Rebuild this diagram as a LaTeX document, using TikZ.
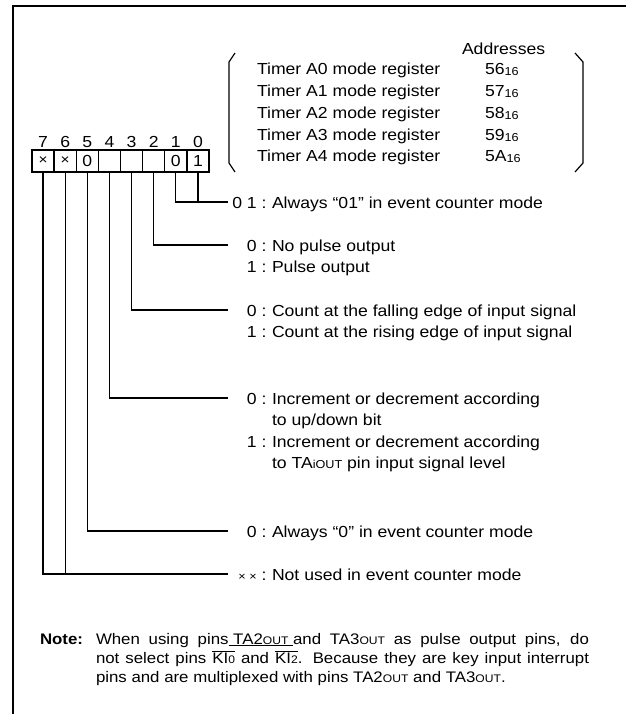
\documentclass[tikz,border=0pt]{standalone}
\usepackage{fontspec}
\setmainfont[FakeStretch=1.1]{Liberation Sans}
\newcommand\fsz{\fontsize{16}{16}\selectfont}
\newcommand\notef{\fontsize{15.3}{15.3}\selectfont}
\newcommand\smf{\fontsize{11.5}{11.5}\selectfont}
\newcommand\nsmf{\fontsize{11}{11}\selectfont}
\newcommand\hexsub{\raisebox{-1pt}{\smf 16}}
\newcommand\outsc{{\nsmf OUT}}
\newcommand\kibar[1]{$\overline{\hbox{KI{\nsmf #1}}}$}
\begin{document}
\begin{tikzpicture}[x=1pt,y=-1pt,
  every node/.style={inner sep=0pt, outer sep=0pt, font=\fsz},
  cell/.style={draw, line width=1.3pt, minimum width=22.125pt, minimum height=22pt},
  lead/.style={line width=1.3pt},
  txt/.style={anchor=base west},
  pre/.style={anchor=base east},
  notetxt/.style={anchor=base west, font=\notef},
  bitno/.style={anchor=base}]
\useasboundingbox (0,0) rectangle (626,714);
% frame
\draw[line width=2.4pt] (13,714) -- (13,6) -- (626,6);
% register cells
\node[cell] (b7) at (43.06,161) {\fontsize{14}{14}\selectfont ×};
\node[cell] (b6) at (65.19,161) {\fontsize{14}{14}\selectfont ×};
\node[cell] (b5) at (87.31,161) {0};
\node[cell] (b4) at (109.44,161) {};
\node[cell] (b3) at (131.56,161) {};
\node[cell] (b2) at (153.69,161) {};
\node[cell] (b1) at (175.81,161) {0};
\node[cell] (b0) at (197.94,161) {1};
% bit numbers
\node[bitno] (n7) at (43.06,147.5) {7};
\node[bitno] (n6) at (65.19,147.5) {6};
\node[bitno] (n5) at (87.31,147.5) {5};
\node[bitno] (n4) at (109.44,147.5) {4};
\node[bitno] (n3) at (131.56,147.5) {3};
\node[bitno] (n2) at (153.69,147.5) {2};
\node[bitno] (n1) at (175.81,147.5) {1};
\node[bitno] (n0) at (197.94,147.5) {0};
% register list
\node[txt] (addr) at (462,55) {Addresses};
\node[txt] (tA0) at (257,75) {Timer A0 mode register};
\node[txt] (tA1) at (257,96.75) {Timer A1 mode register};
\node[txt] (tA2) at (257,118.5) {Timer A2 mode register};
\node[txt] (tA3) at (257,140.25) {Timer A3 mode register};
\node[txt] (tA4) at (257,162) {Timer A4 mode register};
\node[txt] (a0) at (485,75) {56\hexsub};
\node[txt] (a1) at (485,96.75) {57\hexsub};
\node[txt] (a2) at (485,118.5) {58\hexsub};
\node[txt] (a3) at (485,140.25) {59\hexsub};
\node[txt] (a4) at (485,162) {5A\hexsub};
\draw[line width=1.2pt] (235,53) -- (229,62) -- (229,163) -- (235,172);
\draw[line width=1.2pt] (575,53) -- (583,62) -- (583,163) -- (575,172);
% leader end points
\coordinate (e1) at (228,202);
\coordinate (e2) at (228,245);
\coordinate (e3) at (228,310);
\coordinate (e4) at (228,398);
\coordinate (e5) at (228,531);
\coordinate (e6) at (228,574);
\draw[lead] (b1.south) |- (e1);
\draw[lead] (b0.south) -- (b0.south |- e1);
\draw[lead] (b2.south) |- (e2);
\draw[lead] (b3.south) |- (e3);
\draw[lead] (b4.south) |- (e4);
\draw[lead] (b5.south) |- (e5);
\draw[lead] (b7.south) |- (e6);
\draw[lead] (b6.south) -- (b6.south |- e6);
% descriptions
\node[pre] (p1) at (266.5,208) {0 1 :};
\node[txt] (t1) at (272,208) {Always “01” in event counter mode};
\node[pre] (p2a) at (266.5,251) {0 :};
\node[txt] (t2a) at (272,251) {No pulse output};
\node[pre] (p2b) at (266.5,272.5) {1 :};
\node[txt] (t2b) at (272,272.5) {Pulse output};
\node[pre] (p3a) at (266.5,316) {0 :};
\node[txt] (t3a) at (272,316) {Count at the falling edge of input signal};
\node[pre] (p3b) at (266.5,337.5) {1 :};
\node[txt] (t3b) at (272,337.5) {Count at the rising edge of input signal};
\node[pre] (p4a) at (266.5,404) {0 :};
\node[txt] (t4a) at (272,404) {Increment or decrement according};
\node[txt] (t4b) at (272,425.5) {to up/down bit};
\node[pre] (p4c) at (266.5,447) {1 :};
\node[txt] (t4c) at (272,447) {Increment or decrement according};
\node[txt] (t4d) at (272,468.5) {to TA{\smf iOUT} pin input signal level};
\node[pre] (p5) at (266.5,537) {0 :};
\node[txt] (t5) at (272,537) {Always “0” in event counter mode};
\node[pre] (p6) at (266.5,580) {{\smf × ×} :};
\node[txt] (t6) at (272,580) {Not used in event counter mode};
% note
\node[notetxt] (note) at (40,644) {\bfseries Note:};
\node[notetxt] (nl1) at (96,644) {\makebox[493pt][s]{When using pins$\underline{\hbox{ TA2\outsc{} }}$and TA3\outsc{} as pulse output pins, do}};
\node[notetxt] (nl2) at (96,663) {\makebox[493pt][s]{not select pins \kibar{0} and \kibar{2}. Because they are key input interrupt}};
\node[notetxt] (nl3) at (96,682) {pins and are multiplexed with pins TA2\outsc{} and TA3\outsc{}.};
\end{tikzpicture}
\end{document}
